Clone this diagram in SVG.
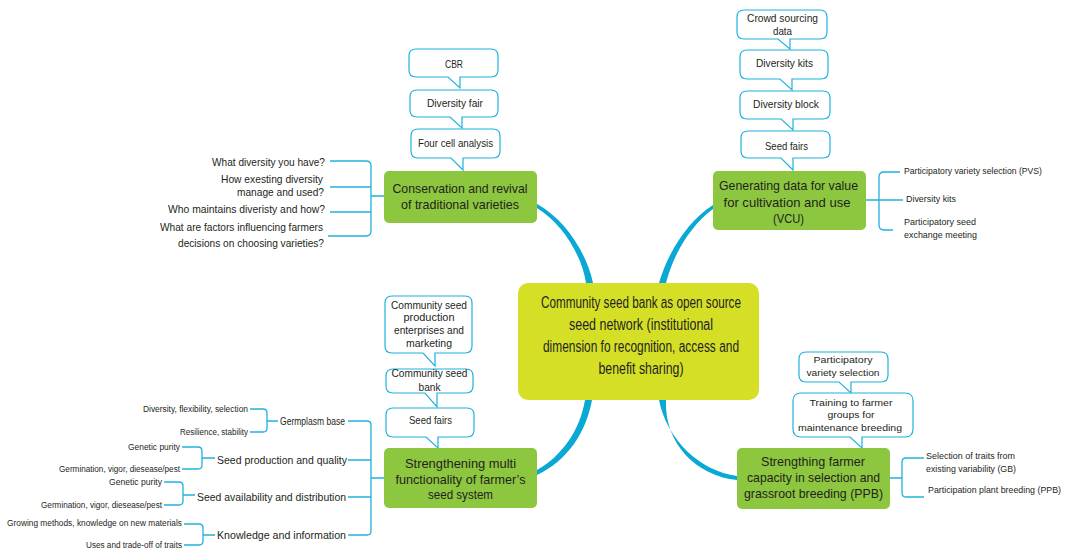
<svg xmlns="http://www.w3.org/2000/svg" width="1071" height="551" viewBox="0 0 1071 551">
<style>
text{font-family:"Liberation Sans",Arial,sans-serif;fill:#231f20}
.c{text-anchor:middle}
.e{text-anchor:end}
.big{font-size:16px}
.mid{font-size:13.5px}
.sm{font-size:10.5px}
.xs{font-size:9.5px}
.xxs{font-size:8.3px}
.call{fill:#fff;stroke:#1fb2de;stroke-width:1.2}
.green{fill:#8dc63f}
.br{fill:none;stroke:#1fb2de;stroke-width:1.3;stroke-linejoin:round}
.cv{fill:#0aa8d4}
</style>
<rect width="1071" height="551" fill="#fff"/>
<g id="connectors">
<path class="cv" d="M537 204 C566 220,587 254,593 283 L586 283 C582 256,563 224,537 208 Z"/>
<path class="cv" d="M713 205 C688 221,668 252,659 283 L666 283 C673 255,690 226,713 209 Z"/>
<path class="cv" d="M585 400 C580 430,562 456,537 470 L537 475 C567 461,586 433,592 400 Z"/>
<path class="cv" d="M659 400 C667 440,700 471,737 476 L737 480 C696 476,664 443,666 400 Z"/>
<path class="br" d="M330 161 H366 Q371 161 371 166 V231 Q371 236 366 236 H328 M330 187 H371 M330 212 H371 M371 196 H384"/>
<path class="br" d="M866 200 H903 M900 172 H884 Q879 172 879 177 V225 Q879 230 884 230 H893"/>
<path class="br" d="M250 409 H263 Q267 409 267 413 V428 Q267 432 263 432 H250 M267 421 H278"/>
<path class="br" d="M182 447 H198 Q202 447 202 451 V465 Q202 469 198 469 H182 M202 458 H215"/>
<path class="br" d="M164 482 H179 Q183 482 183 486 V501 Q183 505 179 505 H164 M183 495 H195"/>
<path class="br" d="M184 524 H199 Q203 524 203 528 V541 Q203 545 199 545 H184 M203 535 H215"/>
<path class="br" d="M348 421 H367 Q371 421 371 425 V531 Q371 535 367 535 H348 M348 460 H371 M348 497 H371 M371 478 H384"/>
<path class="br" d="M890 478 H902 M924 458 H906 Q902 458 902 462 V493 Q902 497 906 497 H924"/>
</g>
<g id="central">
<rect x="518" y="283" width="241" height="117" rx="10" fill="#d5df26"/>
<text class="c big" x="641" y="308" textLength="200" lengthAdjust="spacingAndGlyphs">Community seed bank as open source</text>
<text class="c big" x="641" y="330" textLength="144" lengthAdjust="spacingAndGlyphs">seed network (institutional</text>
<text class="c big" x="641" y="352" textLength="196" lengthAdjust="spacingAndGlyphs">dimension fo recognition, access and</text>
<text class="c big" x="641" y="374" textLength="85" lengthAdjust="spacingAndGlyphs">benefit sharing)</text>
</g>
<g id="conservation">
<rect class="green" x="384" y="171" width="153" height="52" rx="5"/>
<text class="c mid" x="460" y="193" textLength="135" lengthAdjust="spacingAndGlyphs">Conservation and revival</text>
<text class="c mid" x="460" y="209" textLength="118" lengthAdjust="spacingAndGlyphs">of traditional varieties</text>
</g>
<g id="cbr">
<path class="call" d="M416 49 H491 Q498 49 498 56 V70 Q498 77 491 77 H460 V88 L448 77 H416 Q409 77 409 70 V56 Q409 49 416 49 Z"/>
<text class="c sm" x="454" y="68" textLength="18" lengthAdjust="spacingAndGlyphs">CBR</text>
</g>
<g id="diversity-fair">
<path class="call" d="M417 90 H491 Q498 90 498 97 V110 Q498 117 491 117 H462 V128 L450 117 H417 Q410 117 410 110 V97 Q410 90 417 90 Z"/>
<text class="c sm" x="455" y="107" textLength="56" lengthAdjust="spacingAndGlyphs">Diversity fair</text>
</g>
<g id="four-cell">
<path class="call" d="M418 129 H493 Q500 129 500 136 V151 Q500 158 493 158 H463 V170 L451 158 H418 Q411 158 411 151 V136 Q411 129 418 129 Z"/>
<text class="c sm" x="455.5" y="147" textLength="75" lengthAdjust="spacingAndGlyphs">Four cell analysis</text>
</g>
<g id="questions">
<text class="e sm" x="325" y="166" textLength="113" lengthAdjust="spacingAndGlyphs">What diversity you have?</text>
<text class="e sm" x="323" y="183" textLength="102" lengthAdjust="spacingAndGlyphs">How exesting diversity</text>
<text class="e sm" x="324" y="196" textLength="87" lengthAdjust="spacingAndGlyphs">manage and used?</text>
<text class="e sm" x="325" y="213" textLength="157" lengthAdjust="spacingAndGlyphs">Who maintains diveristy and how?</text>
<text class="e sm" x="323" y="231" textLength="163" lengthAdjust="spacingAndGlyphs">What are factors influencing farmers</text>
<text class="e sm" x="324" y="247" textLength="146" lengthAdjust="spacingAndGlyphs">decisions on choosing varieties?</text>
</g>
<g id="crowd">
<path class="call" d="M744 10 H820 Q827 10 827 17 V32 Q827 39 820 39 H790 V49 L778 39 H744 Q737 39 737 32 V17 Q737 10 744 10 Z"/>
<text class="c sm" x="782.5" y="22" textLength="71" lengthAdjust="spacingAndGlyphs">Crowd sourcing</text>
<text class="c sm" x="782.5" y="35" textLength="19" lengthAdjust="spacingAndGlyphs">data</text>
</g>
<g id="diversity-kits">
<path class="call" d="M747 50 H821 Q828 50 828 57 V72 Q828 79 821 79 H792 V90 L780 79 H747 Q740 79 740 72 V57 Q740 50 747 50 Z"/>
<text class="c sm" x="784.5" y="67" textLength="57" lengthAdjust="spacingAndGlyphs">Diversity kits</text>
</g>
<g id="diversity-block">
<path class="call" d="M747 91 H823 Q830 91 830 98 V112 Q830 119 823 119 H793 V130 L781 119 H747 Q740 119 740 112 V98 Q740 91 747 91 Z"/>
<text class="c sm" x="786" y="108" textLength="66" lengthAdjust="spacingAndGlyphs">Diversity block</text>
</g>
<g id="seed-fairs-top">
<path class="call" d="M748 131 H823 Q830 131 830 138 V151 Q830 158 823 158 H793 V170 L781 158 H748 Q741 158 741 151 V138 Q741 131 748 131 Z"/>
<text class="c sm" x="786.5" y="150" textLength="43" lengthAdjust="spacingAndGlyphs">Seed fairs</text>
</g>
<g id="vcu">
<rect class="green" x="713" y="171" width="153" height="59" rx="5"/>
<text class="c mid" x="788.5" y="190" textLength="139" lengthAdjust="spacingAndGlyphs">Generating data for value</text>
<text class="c mid" x="787" y="207" textLength="127" lengthAdjust="spacingAndGlyphs">for cultivation and use</text>
<text class="c mid" x="788.5" y="223" textLength="31" lengthAdjust="spacingAndGlyphs">(VCU)</text>
</g>
<g id="vcu-items">
<text class="xs" x="904" y="174" textLength="138" lengthAdjust="spacingAndGlyphs">Participatory variety selection (PVS)</text>
<text class="xs" x="906" y="202" textLength="50" lengthAdjust="spacingAndGlyphs">Diversity kits</text>
<text class="xs" x="904" y="225" textLength="72" lengthAdjust="spacingAndGlyphs">Participatory seed</text>
<text class="xs" x="904" y="238" textLength="73" lengthAdjust="spacingAndGlyphs">exchange meeting</text>
</g>
<g id="cs-production">
<path class="call" d="M392 296 H465 Q472 296 472 303 V346 Q472 353 465 353 H435 V366 L423 353 H392 Q385 353 385 346 V303 Q385 296 392 296 Z"/>
<text class="c sm" x="429" y="309" textLength="76" lengthAdjust="spacingAndGlyphs">Community seed</text>
<text class="c sm" x="429" y="321" textLength="51" lengthAdjust="spacingAndGlyphs">production</text>
<text class="c sm" x="429" y="334" textLength="70" lengthAdjust="spacingAndGlyphs">enterprises and</text>
<text class="c sm" x="429" y="347" textLength="46" lengthAdjust="spacingAndGlyphs">marketing</text>
</g>
<g id="cs-bank">
<path class="call" d="M393 369 H466 Q473 369 473 376 V386 Q473 393 466 393 H437 V407 L425 393 H393 Q386 393 386 386 V376 Q386 369 393 369 Z"/>
<text class="c sm" x="429.5" y="377" textLength="76" lengthAdjust="spacingAndGlyphs">Community seed</text>
<text class="c sm" x="429.5" y="391" textLength="22" lengthAdjust="spacingAndGlyphs">bank</text>
</g>
<g id="seed-fairs-bottom">
<path class="call" d="M393 408 H467 Q474 408 474 415 V430 Q474 437 467 437 H438 V448 L426 437 H393 Q386 437 386 430 V415 Q386 408 393 408 Z"/>
<text class="c sm" x="430.5" y="424" textLength="43" lengthAdjust="spacingAndGlyphs">Seed fairs</text>
</g>
<g id="multi">
<rect class="green" x="384" y="448" width="153" height="60" rx="5"/>
<text class="c mid" x="460.5" y="468" textLength="111" lengthAdjust="spacingAndGlyphs">Strengthening multi</text>
<text class="c mid" x="460.5" y="484" textLength="130" lengthAdjust="spacingAndGlyphs">functionality of farmer’s</text>
<text class="c mid" x="460.5" y="499" textLength="65" lengthAdjust="spacingAndGlyphs">seed system</text>
</g>
<g id="multi-items">
<text class="sm" x="280" y="425" textLength="65" lengthAdjust="spacingAndGlyphs">Germplasm base</text>
<text class="sm" x="217" y="464" textLength="130" lengthAdjust="spacingAndGlyphs">Seed production and quality</text>
<text class="sm" x="197" y="501" textLength="149" lengthAdjust="spacingAndGlyphs">Seed availability and distribution</text>
<text class="sm" x="217" y="539" textLength="129" lengthAdjust="spacingAndGlyphs">Knowledge and information</text>
<text class="e xxs" x="248" y="412" textLength="105" lengthAdjust="spacingAndGlyphs">Diversity, flexibility, selection</text>
<text class="e xxs" x="248" y="435" textLength="68" lengthAdjust="spacingAndGlyphs">Resilience, stability</text>
<text class="e xxs" x="180" y="450" textLength="52" lengthAdjust="spacingAndGlyphs">Genetic purity</text>
<text class="e xxs" x="180" y="472" textLength="121" lengthAdjust="spacingAndGlyphs">Germination, vigor, diesease/pest</text>
<text class="e xxs" x="162" y="485" textLength="53" lengthAdjust="spacingAndGlyphs">Genetic purity</text>
<text class="e xxs" x="162" y="508" textLength="121" lengthAdjust="spacingAndGlyphs">Germination, vigor, diesease/pest</text>
<text class="e xxs" x="182" y="526" textLength="175" lengthAdjust="spacingAndGlyphs">Growing methods, knowledge on new materials</text>
<text class="e xxs" x="182" y="548" textLength="96" lengthAdjust="spacingAndGlyphs">Uses and trade-off of traits</text>
</g>
<g id="pvs">
<path class="call" d="M806 352 H881 Q888 352 888 359 V375 Q888 382 881 382 H851 V393 L839 382 H806 Q799 382 799 375 V359 Q799 352 806 352 Z"/>
<text class="c xs" x="843" y="363" textLength="59" lengthAdjust="spacingAndGlyphs">Participatory</text>
<text class="c xs" x="843" y="376" textLength="73" lengthAdjust="spacingAndGlyphs">variety selection</text>
</g>
<g id="training">
<path class="call" d="M801 393 H905 Q913 393 913 401 V429 Q913 437 905 437 H862 V448 L850 437 H801 Q793 437 793 429 V401 Q793 393 801 393 Z"/>
<text class="c xs" x="851" y="406" textLength="83" lengthAdjust="spacingAndGlyphs">Training to farmer</text>
<text class="c xs" x="851" y="418" textLength="47" lengthAdjust="spacingAndGlyphs">groups for</text>
<text class="c xs" x="850" y="431" textLength="104" lengthAdjust="spacingAndGlyphs">maintenance breeding</text>
</g>
<g id="ppb">
<rect class="green" x="737" y="448" width="153" height="61" rx="5"/>
<text class="c mid" x="813" y="466" textLength="104" lengthAdjust="spacingAndGlyphs">Strengthing farmer</text>
<text class="c mid" x="813.5" y="482" textLength="133" lengthAdjust="spacingAndGlyphs">capacity in selection and</text>
<text class="c mid" x="813.5" y="498" textLength="139" lengthAdjust="spacingAndGlyphs">grassroot breeding (PPB)</text>
</g>
<g id="ppb-items">
<text class="xs" x="926" y="459" textLength="89" lengthAdjust="spacingAndGlyphs">Selection of traits from</text>
<text class="xs" x="926" y="472" textLength="90" lengthAdjust="spacingAndGlyphs">existing variability (GB)</text>
<text class="xs" x="928" y="493" textLength="133" lengthAdjust="spacingAndGlyphs">Participation plant breeding (PPB)</text>
</g>
</svg>
